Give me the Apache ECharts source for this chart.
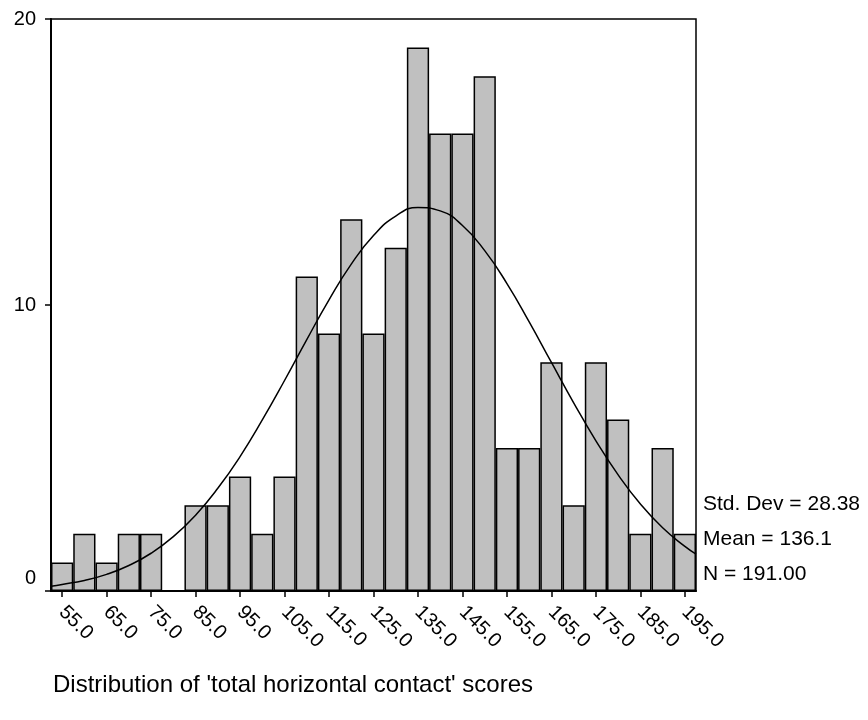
<!DOCTYPE html>
<html>
<head>
<meta charset="utf-8">
<script src="https://cdn.jsdelivr.net/npm/echarts@6/dist/echarts.min.js"></script>
<style>
html,body{margin:0;padding:0;background:#fff;}
#chart{width:868px;height:720px;}
</style>
</head>
<body>
<div id="chart"></div>
<script>
// Bin centres (width 5) and counts
const categories = ['55.0','60.0','65.0','70.0','75.0','80.0','85.0','90.0','95.0','100.0','105.0','110.0','115.0','120.0','125.0','130.0','135.0','140.0','145.0','150.0','155.0','160.0','165.0','170.0','175.0','180.0','185.0','190.0','195.0'];
const counts = [1,2,1,2,2,0,3,3,4,2,4,11,9,13,9,12,19,16,16,18,5,5,8,3,8,6,2,5,2];
// Fitted normal curve
const curveX = [52.5,55,60,65,70,75,80,85,90,95,100,105,110,115,120,125,130,135,140,145,150,155,160,165,170,175,180,185,190,195,197.5];
const curveY = [0.17,0.23,0.37,0.58,0.89,1.32,1.9,2.65,3.59,4.7,5.98,7.36,8.79,10.18,11.43,12.43,13.11,13.41,13.29,12.78,11.9,10.75,9.41,7.99,6.58,5.25,4.06,3.04,2.21,1.56,1.29];
const yTicks = [0,10,20];
const statsLines = ['Std. Dev = 28.38','Mean = 136.1','N = 191.00'];
const titleText = "Distribution of 'total horizontal contact' scores";

const FONT = '"Liberation Sans", Arial, sans-serif';
const chart = echarts.init(document.getElementById('chart'));
chart.setOption({
  backgroundColor: '#fff',
  animation: false,
  textStyle: {fontFamily: FONT},
  title: {
    text: titleText, left: 48, top: 668,
    textStyle: {fontFamily: FONT, fontSize: 24, fontWeight: 'normal', color: '#000'}
  },
  grid: {left: 51, right: 172, top: 19, bottom: 129, show: true, borderColor: '#000', borderWidth: 1.5, backgroundColor: 'transparent'},
  xAxis: [{
    type: 'category', data: categories, boundaryGap: true,
    axisLine: {show: true, lineStyle: {color: '#000', width: 2}},
    axisTick: {show: true, interval: 1, alignWithLabel: true, length: 6, lineStyle: {color: '#000', width: 1.5}},
    axisLabel: {interval: 1, rotate: -45, color: '#000', fontSize: 20, fontFamily: FONT, margin: 18},
    splitLine: {show: false}
  }, {
    type: 'value', min: 52.5, max: 197.5, show: false, position: 'bottom'
  }],
  yAxis: {
    type: 'value', min: yTicks[0], max: yTicks[yTicks.length-1], interval: 10,
    axisLine: {show: true, lineStyle: {color: '#000', width: 2}},
    axisTick: {show: true, length: 6, lineStyle: {color: '#000', width: 1.5}},
    axisLabel: {color: '#000', fontSize: 20, fontFamily: FONT, margin: 15,
      formatter: v => v === 0 ? '{z|0}' : String(v),
      rich: {z: {fontSize: 20, fontFamily: FONT, color: '#000', padding: [0,0,26,0]}}},
    splitLine: {show: false}
  },
  series: [{
    type: 'bar', data: counts, xAxisIndex: 0, barCategoryGap: '0%',
    itemStyle: {color: '#c0c0c0', borderColor: '#000', borderWidth: 1.5},
    z: 2
  }, {
    type: 'line', xAxisIndex: 1, data: curveX.map((x,i)=>[x,curveY[i]]),
    smooth: true, showSymbol: false, symbol: 'none',
    lineStyle: {color: '#000', width: 1.5}, z: 3
  }],
  graphic: statsLines.map((t,i)=>({
    type: 'text', left: 703, top: 494 + i*35,
    style: {text: t, fontSize: 21, fontFamily: FONT, fill: '#000'}
  }))
});
</script>
</body>
</html>
